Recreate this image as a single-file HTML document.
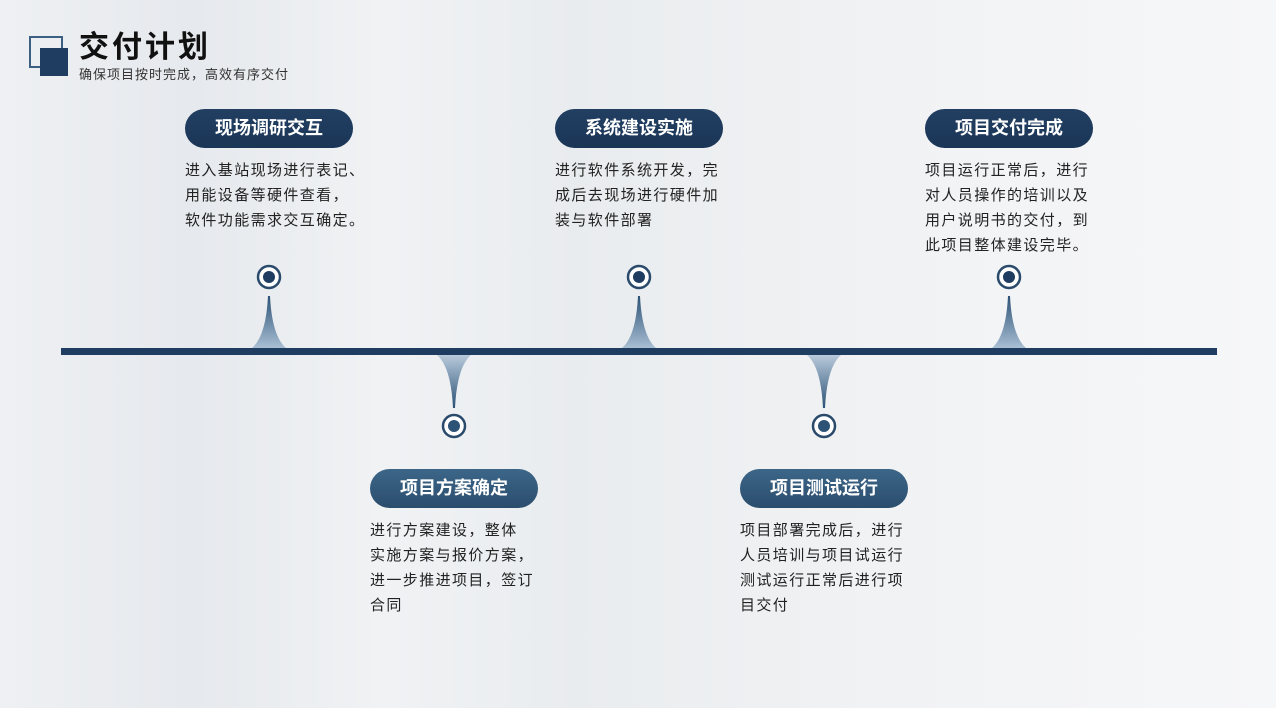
<!DOCTYPE html>
<html><head><meta charset="utf-8"><style>
body{margin:0;width:1276px;height:708px;overflow:hidden;position:relative;font-family:"Liberation Sans","Noto Sans CJK SC",sans-serif;
background:linear-gradient(90deg,#eef0f3 0%,#e6e9ed 15%,#f0f2f4 30%,#e9ecef 45%,#eef0f2 60%,#f2f3f5 75%,#f6f7f8 100%);}
.t{position:absolute;left:79px;top:28px;font-size:30px;font-weight:bold;color:#111;letter-spacing:3px;line-height:40px}
.s{position:absolute;left:79px;top:67px;font-size:13px;color:#333;line-height:16px;letter-spacing:1px}
.pill{position:absolute;width:168px;height:39px;border-radius:20px;color:#fff;font-weight:bold;font-size:18px;text-align:center;line-height:39px;background:linear-gradient(#223f62,#1a3556)}
.pb{background:linear-gradient(#3c6688,#2b4d6d)}
.d{position:absolute;width:200px;font-size:15px;line-height:25px;color:#222;letter-spacing:1.4px;white-space:nowrap}
</style></head><body>
<div style="position:absolute;left:29px;top:36px;width:30px;height:28px;border:2px solid #3b5f80"></div>
<div style="position:absolute;left:40px;top:48px;width:28px;height:28px;background:#1e3d60"></div>
<div class="t">交付计划</div>
<div class="s">确保项目按时完成，高效有序交付</div>
<svg width="1276" height="708" style="position:absolute;left:0;top:0">
<defs>
<linearGradient id="u" x1="0" y1="0" x2="0" y2="1"><stop offset="0" stop-color="#2c5276"/><stop offset="1" stop-color="#a9bfd4"/></linearGradient>
<linearGradient id="dn" x1="0" y1="1" x2="0" y2="0"><stop offset="0" stop-color="#2c5276"/><stop offset="1" stop-color="#b8cadb"/></linearGradient>
<g id="up"><path d="M-17 52 Q-3 40 -1 0 L1 0 Q3 40 17 52 Z" fill="url(#u)"/></g>
<g id="do"><path d="M-17 0 Q-3 12 -1 53 L1 53 Q3 12 17 0 Z" fill="url(#dn)"/></g>
</defs>
<use href="#up" x="269" y="296"/><use href="#up" x="639" y="296"/><use href="#up" x="1009" y="296"/>
<use href="#do" x="454" y="355"/><use href="#do" x="824" y="355"/>
<rect x="61" y="348" width="1156" height="7" fill="#1e3d60"/>
<g fill="#fff" stroke="#2a4a6c" stroke-width="2.5">
<circle cx="269" cy="277" r="11"/><circle cx="639" cy="277" r="11"/><circle cx="1009" cy="277" r="11"/>
<circle cx="454" cy="426" r="11"/><circle cx="824" cy="426" r="11"/></g>
<g fill="#1e3d60"><circle cx="269" cy="277" r="6"/><circle cx="639" cy="277" r="6"/><circle cx="1009" cy="277" r="6"/>
<circle cx="454" cy="426" r="6" fill="#2c5276"/><circle cx="824" cy="426" r="6" fill="#2c5276"/></g>
</svg>
<div class="pill" style="left:185px;top:109px">现场调研交互</div>
<div class="pill" style="left:555px;top:109px">系统建设实施</div>
<div class="pill" style="left:925px;top:109px">项目交付完成</div>
<div class="pill pb" style="left:370px;top:469px">项目方案确定</div>
<div class="pill pb" style="left:740px;top:469px">项目测试运行</div>
<div class="d" style="left:185px;top:158px">进入基站现场进行表记、<br>用能设备等硬件查看，<br>软件功能需求交互确定。</div>
<div class="d" style="left:555px;top:158px">进行软件系统开发，完<br>成后去现场进行硬件加<br>装与软件部署</div>
<div class="d" style="left:925px;top:158px">项目运行正常后，进行<br>对人员操作的培训以及<br>用户说明书的交付，到<br>此项目整体建设完毕。</div>
<div class="d" style="left:370px;top:518px">进行方案建设，整体<br>实施方案与报价方案，<br>进一步推进项目，签订<br>合同</div>
<div class="d" style="left:740px;top:518px">项目部署完成后，进行<br>人员培训与项目试运行<br>测试运行正常后进行项<br>目交付</div>
</body></html>
